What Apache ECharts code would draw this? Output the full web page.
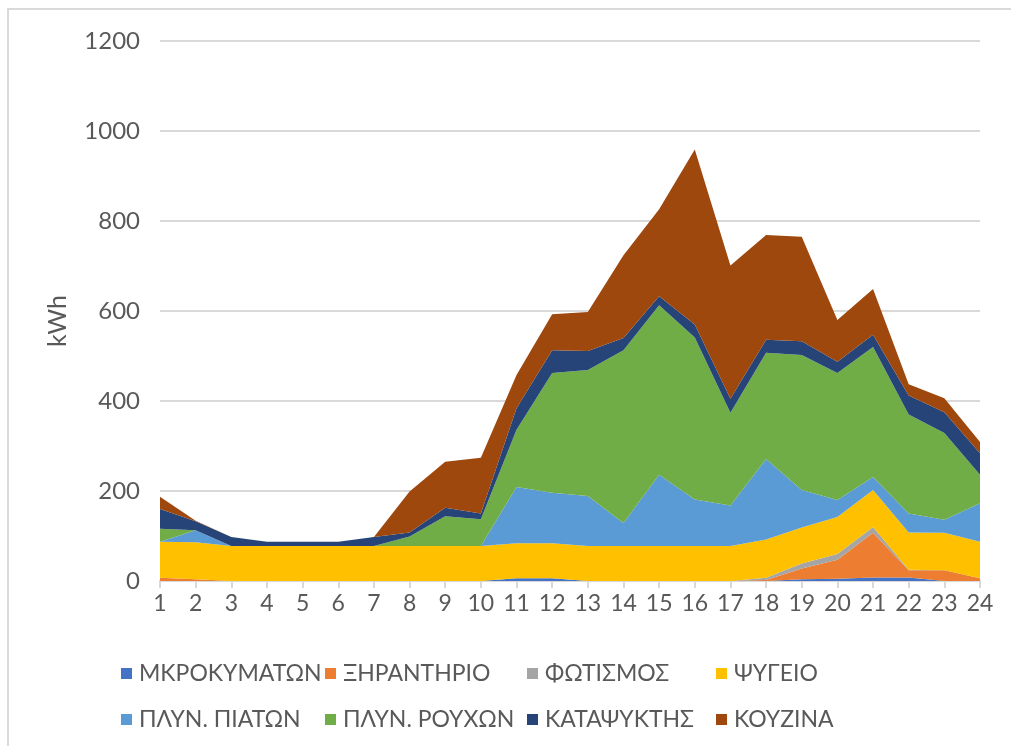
<!DOCTYPE html>
<html>
<head>
<meta charset="utf-8">
<script src="https://cdn.jsdelivr.net/npm/echarts@6/dist/echarts.min.js"></script>
<style>
html,body{margin:0;padding:0;background:#fff;}
#chart{width:1011px;height:746px;}
</style>
</head>
<body>
<div id="chart"></div>
<script>
var hours = ['1','2','3','4','5','6','7','8','9','10','11','12','13','14','15','16','17','18','19','20','21','22','23','24'];
var yTicks = [0, 200, 400, 600, 800, 1000, 1200];
var seriesNames = ['ΜΚΡΟΚΥΜΑΤΩΝ','ΞΗΡΑΝΤΗΡΙΟ','ΦΩΤΙΣΜΟΣ','ΨΥΓΕΙΟ','ΠΛΥΝ. ΠΙΑΤΩΝ','ΠΛΥΝ. ΡΟΥΧΩΝ','ΚΑΤΑΨΥΚΤΗΣ','ΚΟΥΖΙΝΑ'];
var microwave  = [0,0,0,0,0,0,0,0,0,0,6,6,0,0,0,0,0,0,4,5,8,8,0,0];
var dryer      = [7,4,0,0,0,0,0,0,0,0,0,0,0,0,0,0,0,2,24,42,99,16,24,6];
var lighting   = [0,0,0,0,0,0,0,0,0,0,0,0,0,0,0,0,0,5,11,13,13,1,0,0];
var fridge     = [80,82,78,78,78,78,78,78,78,78,78,78,78,78,78,78,78,85,80,82,82,83,83,81];
var dishwasher = [0,27,0,0,0,0,0,0,0,0,125,112,111,51,158,103,90,179,83,38,29,42,29,86];
var washer     = [29,0,0,0,0,0,0,21,66,59,127,266,280,384,377,360,206,236,300,282,289,220,193,63];
var freezer    = [44,20,20,9,9,9,20,9,19,13,48,51,42,27,20,29,31,29,31,25,27,42,46,48];
var kitchen    = [27,1,0,0,0,0,0,91,102,124,74,80,87,184,193,389,296,233,232,93,102,25,31,25];

var seriesData = [microwave, dryer, lighting, fridge, dishwasher, washer, freezer, kitchen];
var colors = ['#4472C4','#ED7D31','#A5A5A5','#FFC000','#5B9BD5','#70AD47','#264478','#9E480E'];

var FONT = "Lato,'Liberation Sans',sans-serif";
var legendCols = [116, 320, 522, 711];
var legendRows = [657, 703];

var legends = seriesNames.map(function(n, i){
  return {
    data: [n],
    left: legendCols[i % 4],
    top: legendRows[Math.floor(i / 4)],
    icon: 'rect',
    itemWidth: 11,
    itemHeight: 11,
    itemGap: 0,
    textStyle: {color: '#595959', fontSize: 23, fontFamily: FONT, padding: [0,0,0,2]}
  };
});

var chart = echarts.init(document.getElementById('chart'));
chart.setOption({
  animation: false,
  color: colors,
  graphic: [{
    type: 'rect', shape: {x: 8, y: 9, width: 1010, height: 745},
    style: {fill: 'none', stroke: '#d9d9d9', lineWidth: 2}, silent: true
  }],
  legend: legends,
  grid: {left: 160, right: 31, top: 41, bottom: 165, containLabel: false},
  xAxis: {
    type: 'category',
    data: hours,
    boundaryGap: false,
    axisLine: {lineStyle: {color: '#d9d9d9', width: 2}},
    axisTick: {show: true, alignWithLabel: true, length: 7, lineStyle: {color: '#d9d9d9', width: 2}},
    axisLabel: {color: '#595959', fontSize: 23, fontFamily: FONT, margin: 11}
  },
  yAxis: {
    type: 'value',
    min: 0, max: 1200, interval: 200,
    name: 'kWh',
    nameLocation: 'middle',
    nameGap: 90,
    nameRotate: 90,
    nameTextStyle: {color: '#595959', fontSize: 25, fontFamily: FONT, padding: [0, 20, 0, 0]},
    axisLine: {show: false},
    axisTick: {show: false},
    axisLabel: {color: '#595959', fontSize: 24, fontFamily: FONT, margin: 20,
      formatter: function(v){ return yTicks.indexOf(v) >= 0 ? String(v) : ''; }},
    splitLine: {lineStyle: {color: '#d9d9d9', width: 2}}
  },
  series: seriesNames.map(function(n, i){
    return {
      name: n,
      type: 'line',
      stack: 'total',
      data: seriesData[i],
      symbol: 'none',
      showSymbol: false,
      lineStyle: {width: 0},
      areaStyle: {color: colors[i], opacity: 1},
      itemStyle: {color: colors[i]}
    };
  })
});
</script>
</body>
</html>
